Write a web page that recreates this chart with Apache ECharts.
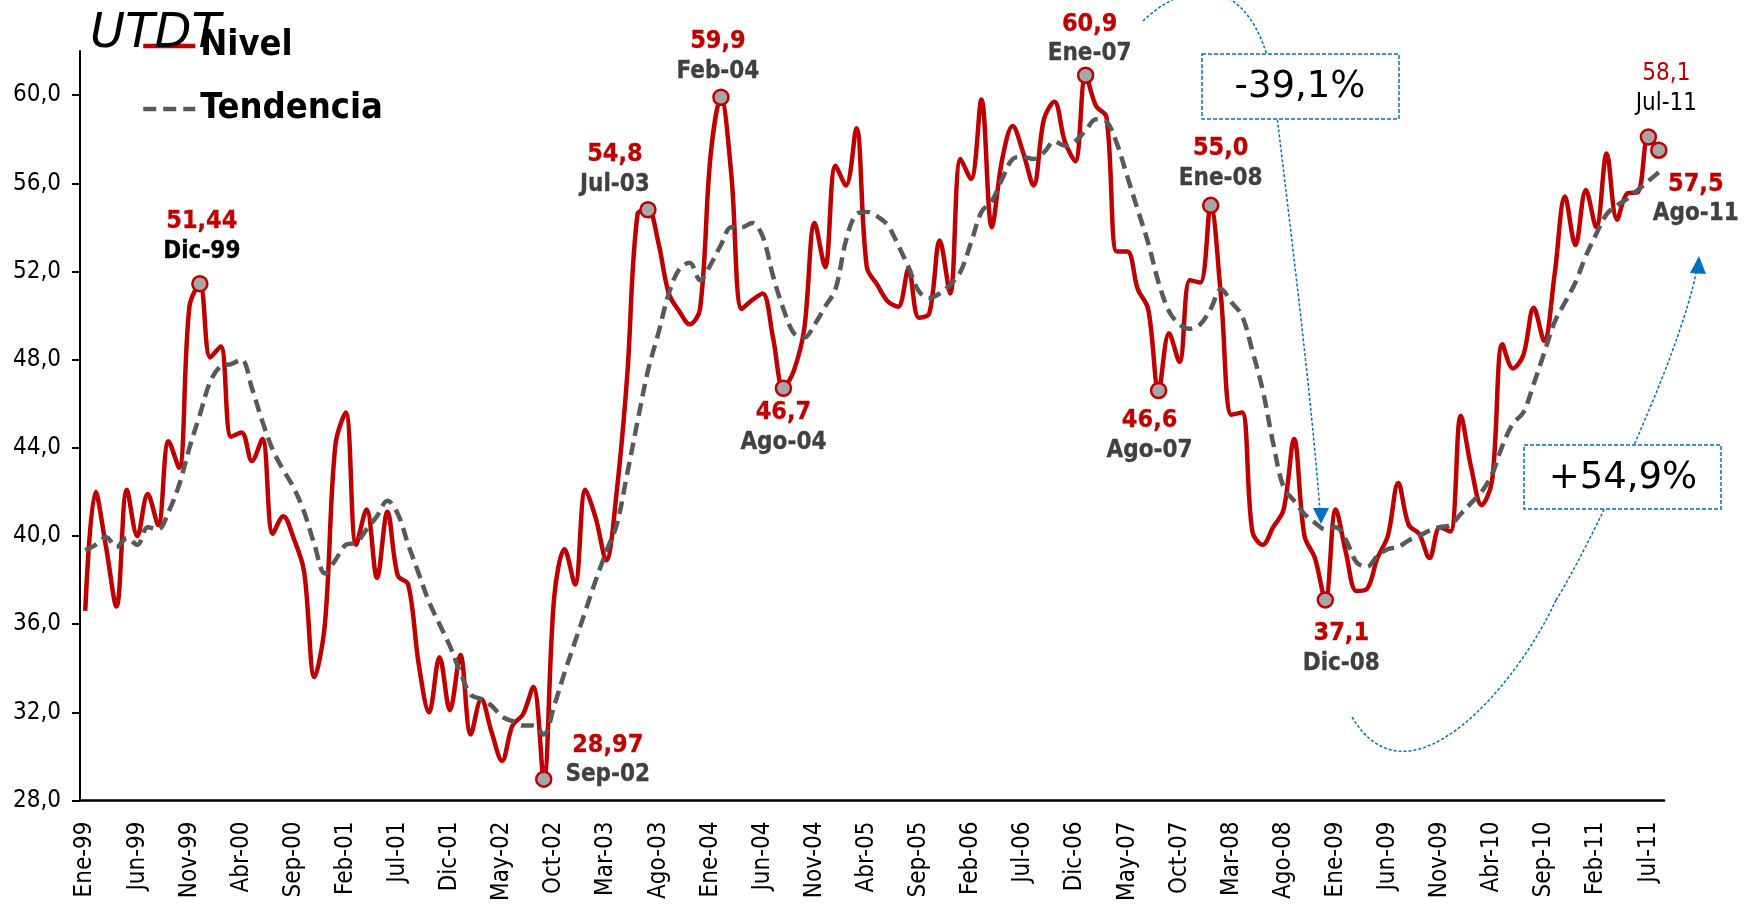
<!DOCTYPE html>
<html>
<head>
<meta charset="utf-8">
<script src="https://cdn.jsdelivr.net/npm/echarts@6/dist/echarts.min.js"></script>
<style>
html,body{margin:0;padding:0;background:#fff;}
#chart{width:1748px;height:904px;}
</style>
</head>
<body>
<div id="chart"></div>
<script>
// ---------- DATA ----------
const monthNames = ['Ene','Feb','Mar','Abr','May','Jun','Jul','Ago','Sep','Oct','Nov','Dic'];
const years = ['99','00','01','02','03','04','05','06','07','08','09','10','11'];
const lastMonthOfLastYear = 8; // series ends Ago-11
const categories = [];
years.forEach((y, yi) => {
  const n = (yi === years.length - 1) ? lastMonthOfLastYear : 12;
  for (let m = 0; m < n; m++) categories.push(monthNames[m] + '-' + y);
});

const nivel = [
  36.6, 42.0, 39.5, 36.8, 42.1, 40.0, 41.9, 40.5, 44.3, 43.1, 50.4, 51.44,
  48.1, 48.6, 44.5, 44.7, 43.4, 44.4, 40.1, 40.9, 39.9, 38.4, 33.6, 36.0,
  44.1, 45.6, 39.6, 41.2, 38.1, 41.1, 38.2, 37.8, 34.2, 32.0, 34.5, 32.1,
  34.6, 31.0, 32.6, 31.1, 29.8, 31.4, 31.9, 33.15, 28.97, 37.2, 39.4, 37.8,
  42.1, 40.8, 38.9, 42.0, 47.2, 54.6, 54.8, 53.3, 51.0, 50.2, 49.6, 50.3,
  57.2, 59.9, 56.4, 50.3, 50.7, 51.0, 49.0, 46.7, 47.5, 49.4, 54.2, 52.2,
  56.8, 55.9, 58.5, 52.2, 51.4, 50.65, 50.4, 52.1, 49.9, 50.1, 53.4, 51.0,
  57.1, 56.2, 59.8, 54.0, 57.1, 58.6, 57.4, 55.9, 58.9, 59.7, 57.9, 57.0,
  60.9, 59.5, 59.0, 52.9, 52.9, 51.2, 50.3, 46.6, 49.2, 47.9, 51.6, 51.5,
  55.0, 50.8, 45.5, 45.6, 40.2, 39.6, 40.4, 41.2, 44.4, 40.0, 39.0, 37.1,
  41.2, 39.2, 37.5, 37.6, 39.0, 40.0, 42.4, 40.5, 40.1, 39.0, 40.4, 40.2,
  45.45, 43.1, 41.4, 42.5, 48.7, 47.6, 48.2, 50.35, 48.85, 51.85, 55.4, 53.2,
  55.7, 54.0, 57.35, 54.35, 55.55, 55.6, 58.1, 57.5
];

const tendencia = [
  39.35, 39.6, 39.95, 39.5, 39.9, 39.6, 40.4, 40.3, 41.1, 42.3, 44.0, 45.5,
  47.0, 47.7, 47.8, 48.0, 46.7, 45.2, 43.9, 43.0, 42.2, 41.1, 39.6, 38.3,
  38.9, 39.6, 39.7, 40.3, 40.9, 41.6, 41.0, 39.6, 38.3, 37.0, 36.0, 35.0,
  33.8, 32.8, 32.6, 32.3, 31.8, 31.6, 31.4, 31.4, 31.0, 32.3, 33.8, 35.2,
  36.6, 38.0, 39.3, 40.5, 42.8, 45.2, 47.5, 49.2, 51.0, 52.1, 52.4, 51.6,
  52.3, 53.2, 54.0, 54.0, 54.2, 53.6, 51.8, 50.3, 49.2, 49.0, 49.6, 50.4,
  51.2, 53.4, 54.6, 54.7, 54.5, 54.1, 53.2, 52.2, 51.1, 50.8, 51.0, 51.4,
  52.0, 53.3, 54.7, 55.2, 56.2, 57.1, 57.2, 57.1, 57.4, 57.9, 57.7, 57.9,
  58.4, 58.9, 58.8, 57.8, 56.3, 54.8, 53.3, 51.5, 50.2, 49.6, 49.4, 49.6,
  50.3, 51.2, 50.6, 50.0, 48.4, 46.6, 44.2, 42.2, 41.6, 41.0, 40.6, 40.3,
  40.4, 39.8, 38.8, 38.6, 39.1, 39.4, 39.5, 39.8, 40.0, 40.25, 40.4, 40.5,
  41.0, 41.5, 42.0, 42.8, 44.1, 45.1, 45.6, 46.9, 48.3, 49.7, 50.6, 51.5,
  52.7, 53.7, 54.6, 55.0, 55.3, 55.7, 56.1, 56.5
];

const seriesNames = ['Nivel', 'Tendencia'];
const markIdx = [11, 44, 54, 61, 67, 96, 103, 108, 119, 150, 151];
const markDecimals = [2, 2, 1, 1, 1, 1, 1, 1, 1, 1, 1];
const yTicks = [28, 32, 36, 40, 44, 48, 52, 56, 60];
const titleText = 'UTDT';
const dropText = '-39,1%';
const riseText = '+54,9%';

// ---------- LAYOUT / STYLE ----------
const COND = "'DejaVu Sans Condensed', 'DejaVu Sans', sans-serif";
const RED = '#C00000';
const GREY = '#595959';
const BLUE = '#0070C0';

// label offsets (pixels) relative to the marker centre, and styles per marker index
const labelLayout = {
  11:  {off: [2, -47],  bold: true,  dateColor: '#000000'},
  44:  {off: [64, -19], bold: true,  dateColor: '#404040'},
  54:  {off: [-33, -40],bold: true,  dateColor: '#404040'},
  61:  {off: [-3, -41], bold: true,  dateColor: '#404040'},
  67:  {off: [0, 39],   bold: true,  dateColor: '#404040'},
  96:  {off: [4, -36],  bold: true,  dateColor: '#404040'},
  103: {off: [-9, 45],  bold: true,  dateColor: '#404040'},
  108: {off: [10, -42], bold: true,  dateColor: '#404040'},
  119: {off: [16, 49],  bold: true,  dateColor: '#404040'},
  150: {off: [18, -48], bold: false, dateColor: '#000000'},
  151: {off: [37, 49],  bold: true,  dateColor: '#404040'}
};

function fmt(v, d) { return v.toFixed(d).replace('.', ','); }

const markData = markIdx.map((idx, k) => {
  const L = labelLayout[idx];
  const w = L.bold ? 'bold' : 'normal';
  const bw = L.bold ? 0.3 : 0;
  return {
    value: [idx, nivel[idx]],
    label: {
      show: true,
      position: ['50%', '50%'],
      offset: L.off,
      align: 'center',
      verticalAlign: 'middle',
      textBorderWidth: 0,
      formatter: '{v|' + fmt(nivel[idx], markDecimals[k]) + '}\n{d|' + categories[idx] + '}',
      rich: {
        v: {color: RED, fontWeight: w, fontSize: L.bold ? 25 : 24, fontFamily: COND, lineHeight: 30, align: 'center',
            textBorderColor: RED, textBorderWidth: bw},
        d: {color: L.dateColor, fontWeight: w, fontSize: 24, fontFamily: COND, lineHeight: 30, align: 'center',
            textBorderColor: L.dateColor, textBorderWidth: bw}
      }
    }
  };
});

const chart = echarts.init(document.getElementById('chart'), null, {renderer: 'canvas'});

const option = {
  animation: false,
  backgroundColor: '#ffffff',
  title: {
    text: titleText,
    left: 85,
    top: 6,
    textStyle: {fontFamily: "'DejaVu Sans', sans-serif", fontStyle: 'italic', fontWeight: 'normal', fontSize: 48, color: '#000'}
  },
  legend: {
    data: seriesNames,
    orient: 'vertical',
    left: 141,
    top: 28,
    padding: 0,
    itemWidth: 52,
    itemHeight: 14,
    itemGap: 27,
    itemStyle: {opacity: 0},
    lineStyle: {width: 4.5},
    textStyle: {fontFamily: COND, fontWeight: 'bold', fontSize: 36, color: '#000'}
  },
  grid: {left: 80, right: 84, top: 51, bottom: 95, containLabel: false},
  xAxis: {
    type: 'category',
    data: categories,
    boundaryGap: true,
    axisLine: {show: true, lineStyle: {color: '#000', width: 2.5}},
    axisTick: {show: false},
    axisLabel: {interval: 4, rotate: 90, margin: 21, fontFamily: COND, fontSize: 24, color: '#000'},
    splitLine: {show: false}
  },
  yAxis: {
    type: 'value',
    min: 28,
    max: 62,
    interval: 4,
    axisLine: {show: true, lineStyle: {color: '#000', width: 2}},
    axisTick: {show: true, length: 8, lineStyle: {color: '#000', width: 2}, customValues: yTicks},
    axisLabel: {
      margin: 19, fontFamily: COND, fontSize: 24, color: '#000',
      customValues: yTicks,
      formatter: v => fmt(v, 1)
    },
    splitLine: {show: false}
  },
  series: [
    {
      name: seriesNames[0],
      type: 'line',
      data: nivel,
      smooth: 0.35,
      showSymbol: false,
      symbol: 'none',
      lineStyle: {color: RED, width: 4.5},
      itemStyle: {color: RED},
      z: 2
    },
    {
      name: seriesNames[1],
      type: 'line',
      data: tendencia,
      smooth: 0.35,
      showSymbol: false,
      symbol: 'none',
      lineStyle: {color: GREY, width: 4.5, type: [13, 7]},
      itemStyle: {color: GREY},
      z: 3
    },
    {
      name: 'marcas',
      type: 'scatter',
      data: markData,
      symbol: 'circle',
      symbolSize: 15,
      itemStyle: {color: '#A6A6A6', borderColor: RED, borderWidth: 2.5, opacity: 1},
      z: 5
    }
  ],
  graphic: [
    // connector for the fall
    {type: 'bezierCurve', z: 100, shape: {x1: 1143, y1: 21, cpx1: 1185, cpy1: -20, cpx2: 1250, cpy2: -30, x2: 1272, y2: 75},
     style: {stroke: BLUE, lineWidth: 1.5, lineDash: [3, 2], fill: null}},
    {type: 'bezierCurve', z: 100, shape: {x1: 1272, y1: 75, cpx1: 1287, cpy1: 200, cpx2: 1312, cpy2: 400, x2: 1320, y2: 512},
     style: {stroke: BLUE, lineWidth: 1.5, lineDash: [3, 2], fill: null}},
    {type: 'polygon', z: 101, shape: {points: [[1321, 524], [1313, 508], [1329, 508]]}, style: {fill: BLUE}},
    // connector for the rise
    {type: 'bezierCurve', z: 100, shape: {x1: 1352, y1: 717, cpx1: 1410, cpy1: 815, cpx2: 1520, cpy2: 680, x2: 1556, y2: 600},
     style: {stroke: BLUE, lineWidth: 1.5, lineDash: [3, 2], fill: null}},
    {type: 'bezierCurve', z: 100, shape: {x1: 1556, y1: 600, cpx1: 1585, cpy1: 555, cpx2: 1680, cpy2: 360, x2: 1697, y2: 268},
     style: {stroke: BLUE, lineWidth: 1.5, lineDash: [3, 2], fill: null}},
    {type: 'polygon', z: 101, shape: {points: [[1699, 256], [1690, 273], [1706, 274]]}, style: {fill: BLUE}},
    // boxes
    {type: 'rect', z: 102, shape: {x: 1202, y: 54, width: 197, height: 65},
     style: {fill: '#ffffff', stroke: BLUE, lineWidth: 1.5, lineDash: [4, 2]}},
    {type: 'text', z: 103, x: 1300, y: 87,
     style: {text: dropText, fontFamily: "'DejaVu Sans', sans-serif", fontSize: 37, fill: '#000', align: 'center', verticalAlign: 'middle'}},
    {type: 'rect', z: 102, shape: {x: 1524, y: 445, width: 197, height: 64},
     style: {fill: '#ffffff', stroke: BLUE, lineWidth: 1.5, lineDash: [4, 2]}},
    {type: 'text', z: 103, x: 1623, y: 478,
     style: {text: riseText, fontFamily: "'DejaVu Sans', sans-serif", fontSize: 37, fill: '#000', align: 'center', verticalAlign: 'middle'}}
  ]
};

chart.setOption(option);
</script>
</body>
</html>
